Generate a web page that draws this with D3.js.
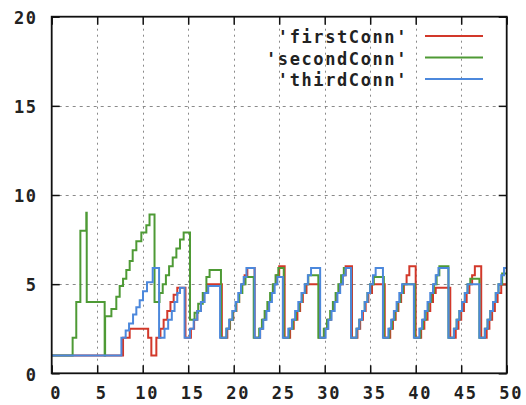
<!DOCTYPE html>
<html>
<head>
<meta charset="utf-8">
<script src="https://cdn.jsdelivr.net/npm/d3@7"></script>
<style>
  html, body { margin: 0; padding: 0; background: #fff; }
  svg { display: block; }
  .lbl { font-family: "DejaVu Sans Mono", monospace; font-weight: bold; font-size: 17px; letter-spacing: 1.6px; fill: #222; }
</style>
</head>
<body>
<svg id="chart" width="526" height="405"></svg>
<script>
// Congestion window of three TCP connections over time, [time, cwnd] step points
const firstConn = [
  [0,1],[7.84,2],[8.57,2.5],[10.6,2],[10.95,1],[11.5,2],[11.95,2.5],[12.3,3],[12.7,3.5],[13.05,4],[13.4,4.4],[13.8,4.8],
  [14.7,2],[15.3,2.5],[15.65,3],[16.0,3.5],[16.4,4],[16.75,4.5],[17.1,5],
  [18.7,2],[19.3,2.5],[19.6,3],[19.95,3.5],[20.3,4],[20.6,4.5],[20.9,5],[21.2,5.5],[21.5,5.9],
  [22.3,2],[22.9,2.5],[23.2,3],[23.5,3.5],[23.8,4],[24.1,4.5],[24.4,5],[24.7,5.5],[25.0,6],
  [25.6,2],[26.2,2.5],[26.6,3],[27.0,3.5],[27.3,4],[27.6,4.5],[28.0,5],
  [29.4,2],[30.0,2.5],[30.35,3],[30.7,3.5],[31.0,4],[31.3,4.5],[31.65,5],[32.0,5.5],[32.3,6],
  [33.0,2],[33.6,2.5],[33.9,3],[34.2,3.5],[34.5,4],[34.8,4.5],[35.2,5],
  [36.6,2],[37.2,2.5],[37.5,3],[37.8,3.5],[38.1,4],[38.4,4.5],[38.7,5],[39.0,5.5],[39.3,6],
  [40.0,2],[40.6,2.5],[40.95,3],[41.3,3.5],[41.6,4],[41.9,4.5],[42.2,4.8],
  [43.8,2],[44.4,2.5],[44.7,3],[45.0,3.5],[45.3,4],[45.6,4.5],[45.9,5],[46.2,5.5],[46.5,6],
  [47.2,2],[47.8,2.5],[48.1,3],[48.4,3.5],[48.7,4],[49.0,4.5],[49.4,5],[50,5]
];
const secondConn = [
  [0,1],[2.3,2],[2.7,4],[3.15,8],[3.8,9],[3.85,4],[5.82,1],[5.87,3.2],[6.56,3.6],[7.1,4.3],[7.47,4.9],[7.84,5.3],
  [8.2,5.8],[8.57,6.3],[8.9,6.9],[9.3,7.4],[9.85,7.9],[10.4,8.3],[10.75,8.9],
  [11.3,4],[11.85,4.5],[12.2,5],[12.55,5.5],[12.9,6],[13.3,6.5],[13.7,7],[14.1,7.5],[14.5,7.9],
  [15.2,3],[15.7,3.4],[16.1,3.9],[16.6,4.5],[17.0,5.4],[17.35,5.8],
  [18.6,2],[19.2,2.5],[19.55,3],[19.9,3.5],[20.25,4],[20.6,4.5],[20.95,5],[21.3,5.4],
  [22.2,2],[22.8,2.5],[23.1,3],[23.4,3.5],[23.7,4],[24.0,4.5],[24.3,5],[24.6,5.5],[24.9,5.9],
  [25.5,2],[26.1,2.5],[26.5,3],[26.85,3.5],[27.2,4],[27.5,4.5],[27.85,5],[28.2,5.5],
  [29.3,2],[29.9,2.5],[30.25,3],[30.6,3.5],[30.9,4],[31.2,4.5],[31.5,5],[31.8,5.5],[32.1,5.9],
  [32.9,2],[33.5,2.5],[33.8,3],[34.1,3.5],[34.4,4],[34.7,4.5],[35.0,5],[35.4,5.4],
  [36.5,2],[37.1,2.5],[37.4,3],[37.7,3.5],[38.0,4],[38.3,4.5],[38.6,5],
  [39.9,2],[40.5,2.5],[40.8,3],[41.1,3.5],[41.4,4],[41.7,4.5],[42.0,5],[42.3,5.5],[42.6,6],
  [43.6,2],[44.2,2.5],[44.5,3],[44.8,3.5],[45.1,4],[45.4,4.5],[45.7,5],[46.0,5.3],
  [47.0,2],[47.6,2.5],[47.9,3],[48.2,3.5],[48.5,4],[48.8,4.5],[49.1,5],[49.5,5.6],[50,5.6]
];
const thirdConn = [
  [0,1],[7.66,2],[8.13,2.4],[8.5,2.8],[8.94,3.3],[9.3,3.7],[9.67,4.1],[10.03,4.6],[10.47,5.1],[11.1,5.9],
  [11.8,2],[12.4,2.5],[12.8,3],[13.2,3.5],[13.5,4],[13.8,4.5],[14.1,4.8],
  [14.6,2],[15.2,2.5],[15.6,3],[16.0,3.5],[16.4,4],[16.8,4.5],[17.2,4.9],
  [18.5,2],[19.2,2.5],[19.5,3],[19.85,3.5],[20.2,4],[20.5,4.5],[20.8,5],[21.1,5.4],[21.4,5.9],
  [22.3,2],[22.9,2.5],[23.25,3],[23.6,3.5],[23.9,4],[24.2,4.5],[24.5,5],[24.8,5.4],
  [25.4,2],[26.0,2.5],[26.4,3],[26.75,3.5],[27.1,4],[27.45,4.5],[27.8,5],[28.15,5.5],[28.5,5.9],
  [29.5,2],[30.1,2.5],[30.4,3],[30.75,3.5],[31.1,4],[31.4,4.5],[31.7,5],[32.0,5.5],[32.3,5.9],
  [32.9,2],[33.5,2.5],[33.8,3],[34.1,3.5],[34.4,4],[34.7,4.5],[35.0,5],[35.3,5.5],[35.6,5.9],
  [36.4,2],[37.0,2.5],[37.3,3],[37.6,3.5],[37.9,4],[38.2,4.5],[38.5,5],
  [39.8,2],[40.4,2.5],[40.7,3],[41.0,3.5],[41.3,4],[41.6,4.5],[41.9,5],[42.2,5.5],[42.5,5.9],
  [43.6,2],[44.2,2.5],[44.5,3],[44.8,3.5],[45.1,4],[45.4,4.5],[45.7,5],
  [47.0,2],[47.6,2.5],[47.9,3],[48.2,3.5],[48.5,4],[48.8,4.5],[49.1,5],[49.4,5.5],[49.7,5.9],[50,5.9]
];
const seriesNames = ["'firstConn'", "'secondConn'", "'thirdConn'"];
const seriesColors = ["#d2382a", "#4e9a35", "#4c88dc"];
const xTicks = [0, 5, 10, 15, 20, 25, 30, 35, 40, 45, 50];
const yTicks = [0, 5, 10, 15, 20];

const svg = d3.select("#chart");
const plotLeft = 51.7, plotRight = 506.7, plotTop = 16.7, plotBottom = 373.3;
const x = d3.scaleLinear().domain([0, 50]).range([plotLeft, plotRight]);
const y = d3.scaleLinear().domain([0, 20]).range([plotBottom, plotTop]);

// grid
const grid = svg.append("g").attr("stroke", "#8a8a8a").attr("stroke-width", 1);
grid.selectAll("line.gx").data(xTicks.filter(d => d > 0 && d < 50)).join("line")
  .attr("x1", d => Math.round(x(d)) + 0.5).attr("x2", d => Math.round(x(d)) + 0.5)
  .attr("y1", plotTop).attr("y2", plotBottom)
  .attr("stroke-dasharray", "2,4");
grid.selectAll("line.gy").data(yTicks.filter(d => d > 0 && d < 20)).join("line")
  .attr("x1", plotLeft).attr("x2", plotRight)
  .attr("y1", d => Math.round(y(d)) + 0.5).attr("y2", d => Math.round(y(d)) + 0.5)
  .attr("stroke-dasharray", "3,4");

// axes with inward ticks on all sides
const tickLen = 8;
const axB = svg.append("g").attr("transform", `translate(0,${plotBottom})`)
  .call(d3.axisBottom(x).tickValues(xTicks).tickSizeInner(-tickLen).tickSizeOuter(0).tickPadding(12));
const axT = svg.append("g").attr("transform", `translate(0,${plotTop})`)
  .call(d3.axisTop(x).tickValues(xTicks).tickSizeInner(-tickLen).tickSizeOuter(0).tickFormat(""));
const axL = svg.append("g").attr("transform", `translate(${plotLeft},0)`)
  .call(d3.axisLeft(y).tickValues(yTicks).tickSizeInner(-tickLen).tickSizeOuter(0).tickPadding(14));
const axR = svg.append("g").attr("transform", `translate(${plotRight},0)`)
  .call(d3.axisRight(y).tickValues(yTicks).tickSizeInner(-tickLen).tickSizeOuter(0).tickFormat(""));
[axB, axT, axL, axR].forEach(a => {
  a.select(".domain").remove();
  a.selectAll(".tick line").attr("stroke", "#111").attr("stroke-width", 1.5);
  a.selectAll("text").attr("class", "lbl").attr("fill", "#222");
});
axB.selectAll("text").attr("dx", 4).attr("dy", "0.78em");
axL.selectAll("text").attr("dy", "0.4em");

// series
svg.append("clipPath").attr("id", "plotclip")
  .append("rect").attr("x", plotLeft).attr("y", plotTop)
  .attr("width", plotRight - plotLeft).attr("height", plotBottom - plotTop);
const line = d3.line().x(d => x(d[0])).y(d => y(d[1])).curve(d3.curveStepAfter);
const series = [firstConn, secondConn, thirdConn];
const plot = svg.append("g").attr("clip-path", "url(#plotclip)");
series.forEach((s, i) => {
  plot.append("path").datum(s).attr("d", line)
    .attr("fill", "none").attr("stroke", seriesColors[i]).attr("stroke-width", 2)
    .attr("stroke-linejoin", "miter");
});

// border
svg.append("rect").attr("x", plotLeft).attr("y", plotTop)
  .attr("width", plotRight - plotLeft).attr("height", plotBottom - plotTop)
  .attr("fill", "none").attr("stroke", "#111").attr("stroke-width", 1.8);

// legend
const legend = svg.append("g");
const rowY = [43, 64.5, 86];
seriesNames.forEach((name, i) => {
  legend.append("text").attr("class", "lbl").attr("x", 408).attr("y", rowY[i])
    .attr("text-anchor", "end").text(name);
  legend.append("line").attr("x1", 425).attr("x2", 483)
    .attr("y1", rowY[i] - 7).attr("y2", rowY[i] - 7)
    .attr("stroke", seriesColors[i]).attr("stroke-width", 2);
});
</script>
</body>
</html>
